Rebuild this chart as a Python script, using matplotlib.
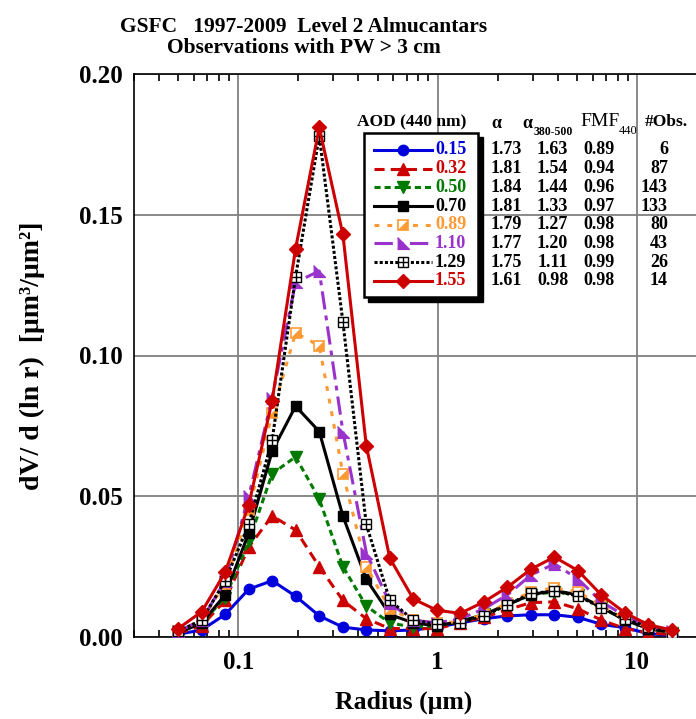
import matplotlib
matplotlib.use('Agg')
import matplotlib.pyplot as plt
from matplotlib.lines import Line2D
from matplotlib.patches import Rectangle
from matplotlib.ticker import FixedLocator, LogLocator, NullFormatter, FormatStrFormatter

plt.rcParams['font.family'] = ['Liberation Serif', 'DejaVu Serif']
plt.rcParams['font.weight'] = 'bold'
plt.rcParams['axes.labelweight'] = 'bold'

# radius bins (um)
radius = [0.050, 0.0656, 0.086, 0.113, 0.148, 0.194, 0.255, 0.335, 0.439, 0.576, 0.756,
          0.992, 1.302, 1.708, 2.241, 2.940, 3.857, 5.061, 6.641, 8.713, 11.43, 15.0]

# dV/dlnr for each AOD class
dv_015 = [0.001, 0.0025, 0.008, 0.017, 0.020, 0.0145, 0.0075, 0.0035, 0.0025, 0.0022, 0.0025,
          0.0035, 0.005, 0.0065, 0.0075, 0.0079, 0.0079, 0.007, 0.0045, 0.0033, 0.0012, 0.0005]
dv_032 = [0.0012, 0.004, 0.013, 0.032, 0.043, 0.038, 0.025, 0.013, 0.0065, 0.003, 0.003,
          0.003, 0.005, 0.007, 0.0097, 0.0122, 0.0125, 0.010, 0.006, 0.003, 0.0015, 0.0008]
dv_050 = [0.0015, 0.005, 0.014, 0.034, 0.058, 0.064, 0.049, 0.025, 0.011, 0.005, 0.0035,
          0.004, 0.0055, 0.008, 0.0115, 0.015, 0.016, 0.015, 0.0105, 0.006, 0.003, 0.0015]
dv_070 = [0.0015, 0.005, 0.015, 0.037, 0.066, 0.082, 0.073, 0.043, 0.0205, 0.008, 0.005,
          0.004, 0.0055, 0.008, 0.0115, 0.015, 0.0165, 0.015, 0.0105, 0.006, 0.003, 0.0015]
dv_089 = [0.002, 0.006, 0.019, 0.045, 0.0795, 0.108, 0.1035, 0.058, 0.025, 0.010, 0.006,
          0.005, 0.0055, 0.008, 0.012, 0.016, 0.0175, 0.016, 0.011, 0.0065, 0.0035, 0.0015]
dv_110 = [0.002, 0.006, 0.020, 0.050, 0.085, 0.126, 0.130, 0.073, 0.030, 0.012, 0.006,
          0.005, 0.0065, 0.010, 0.015, 0.022, 0.026, 0.0206, 0.0125, 0.0075, 0.004, 0.002]
dv_129 = [0.002, 0.006, 0.020, 0.040, 0.070, 0.128, 0.178, 0.112, 0.040, 0.013, 0.006,
          0.0045, 0.005, 0.0075, 0.0114, 0.0155, 0.0163, 0.0146, 0.0104, 0.0064, 0.0036, 0.0015]
dv_155 = [0.003, 0.009, 0.023, 0.047, 0.084, 0.138, 0.181, 0.143, 0.068, 0.028, 0.0135,
          0.0095, 0.0084, 0.0125, 0.0177, 0.0241, 0.0284, 0.0236, 0.0149, 0.0086, 0.0043, 0.0025]

aod_labels = ['0.15', '0.32', '0.50', '0.70', '0.89', '1.10', '1.29', '1.55']
alpha = [1.73, 1.81, 1.84, 1.81, 1.79, 1.77, 1.75, 1.61]
alpha_380_500 = [1.63, 1.54, 1.44, 1.33, 1.27, 1.20, 1.11, 0.98]
fmf_440 = [0.89, 0.94, 0.96, 0.97, 0.98, 0.98, 0.99, 0.98]
n_obs = [6, 87, 143, 133, 80, 43, 26, 14]

series = [dv_015, dv_032, dv_050, dv_070, dv_089, dv_110, dv_129, dv_155]

# styles
tri_lr = [(1, 1), (1, -1), (-1, -1)]      # filled lower right half of square
tri_ll = [(-1, 1), (1, -1), (-1, -1)]
styles = [
    dict(color='#0000DD', ls='-', marker='o', ms=7.5),
    dict(color='#CC0000', ls=(0, (3.3, 2.0)), marker='^', ms=8.5),
    dict(color='#007A00', ls=(0, (2.0, 1.3)), marker='v', ms=8.5),
    dict(color='black', ls='-', marker='s', ms=7.5),
    dict(color='#FF9933', ls=(0, (1.6, 2.6)), marker='s', ms=7.5, mfc='white', mew=1.2),
    dict(color='#9933CC', ls=(0, (6, 2, 1.6, 2)), marker=tri_ll, ms=8.5),
    dict(color='black', ls=(0, (1.0, 0.7)), marker='s', ms=7.5, mfc='white', mew=1.0),
    dict(color='#CC0000', ls='-', marker='D', ms=7),
]
text_colors = ['#0000DD', '#CC0000', '#007A00', 'black', '#FF9933', '#9933CC', 'black', '#CC0000']

W, H = 696, 719


def fx(x):
    return x / W


def fy(y):
    return 1 - y / H


def overlay(i):
    # extra marker drawn on top of the open squares
    if i == 4:
        return dict(marker=tri_lr, ms=7.5, color='#FF9933', mew=0)
    if i == 6:
        return dict(marker='+', ms=7.5, color='black', mew=1.0)
    return None


fig = plt.figure(figsize=(6.96, 7.19), dpi=100)
ax = fig.add_axes([fx(134), fy(637), 598 / W, 563 / H])

for i, dv in enumerate(series):
    st = styles[i]
    ax.plot(radius, dv, color=st['color'], ls=st['ls'], lw=2.2, marker=st['marker'],
            ms=st['ms'], mfc=st.get('mfc', st['color']), mec=st['color'],
            mew=st.get('mew', 1.0), zorder=3 + i)
    ov = overlay(i)
    if ov:
        ax.plot(radius, dv, ls='none', marker=ov['marker'], ms=ov['ms'], color=ov['color'],
                mew=ov['mew'], zorder=3 + i)

ax.set_xscale('log')
ax.set_xlim(0.03, 30)
ax.set_ylim(0, 0.20)
ax.xaxis.set_major_locator(FixedLocator([0.1, 1, 10]))
ax.xaxis.set_major_formatter(FormatStrFormatter('%g'))
ax.xaxis.set_minor_locator(LogLocator(base=10, subs=range(2, 10)))
ax.xaxis.set_minor_formatter(NullFormatter())
ax.yaxis.set_major_locator(FixedLocator([0, 0.05, 0.10, 0.15, 0.20]))
ax.yaxis.set_major_formatter(FormatStrFormatter('%.2f'))

ax.grid(True, which='major', color='#808080', lw=1.3, zorder=0)
ax.set_axisbelow(True)
ax.tick_params(which='major', length=0, labelsize=18)
ax.tick_params(axis='x', which='major', pad=10)
ax.tick_params(axis='y', which='major', pad=8)
ax.tick_params(axis='x', which='minor', direction='in', length=5, width=1.2, top=True)
for s in ['left', 'bottom', 'top']:
    ax.spines[s].set_linewidth(1.2)
ax.spines['right'].set_visible(False)

ax.set_xlabel('Radius (μm)', fontsize=18.5, fontweight='bold')
ax.xaxis.set_label_coords(0.451, -0.095)
ax.set_ylabel('dV/ d (ln r)  [μm³/μm²]', fontsize=20, fontweight='bold')
ax.yaxis.set_label_coords(-0.148, 0.5)

# title
fig.text(fx(304), fy(32), 'GSFC   1997-2009  Level 2 Almucantars', ha='center', va='baseline', fontsize=15.5)
fig.text(fx(304), fy(53), 'Observations with PW > 3 cm', ha='center', va='baseline', fontsize=15.5)

# legend box with shadow
fig.add_artist(Rectangle((fx(368), fy(302)), 115 / W, 165 / H, transform=fig.transFigure,
                         fc='black', ec='black', zorder=10))
fig.add_artist(Rectangle((fx(364.5), fy(297)), 113.5 / W, 164 / H, transform=fig.transFigure,
                         fc='white', ec='black', lw=1.8, zorder=11))

row0 = 150
dy = 18.7
for i in range(len(series)):
    y = row0 + i * dy
    st = styles[i]
    fig.add_artist(Line2D([fx(374), fx(432)], [fy(y), fy(y)], transform=fig.transFigure,
                          color=st['color'], ls=st['ls'], lw=2.2, zorder=12))
    fig.add_artist(Line2D([fx(403)], [fy(y)], transform=fig.transFigure, ls='none',
                          marker=st['marker'], ms=st['ms'], mfc=st.get('mfc', st['color']),
                          mec=st['color'], mew=st.get('mew', 1.0), zorder=13))
    ov = overlay(i)
    if ov:
        fig.add_artist(Line2D([fx(403)], [fy(y)], transform=fig.transFigure, ls='none',
                              marker=ov['marker'], ms=ov['ms'], color=ov['color'],
                              mew=ov['mew'], zorder=14))
    fig.text(fx(435), fy(y), aod_labels[i], color=text_colors[i], ha='left', va='center',
             fontsize=13, zorder=15)
    # table
    fig.text(fx(506), fy(y), '%.2f' % alpha[i], ha='center', va='center', fontsize=13)
    fig.text(fx(552.5), fy(y), '%.2f' % alpha_380_500[i], ha='center', va='center', fontsize=13)
    fig.text(fx(599), fy(y), '%.2f' % fmf_440[i], ha='center', va='center', fontsize=13)
    fig.text(fx(668), fy(y), str(n_obs[i]), ha='right', va='center', fontsize=13)

# table header
fig.text(fx(357), fy(122.5), 'AOD (440 nm)', ha='left', va='center', fontsize=12.5)
fig.text(fx(496.5), fy(123), 'α', ha='center', va='center', fontsize=13)
fig.text(fx(527.5), fy(123), 'α', ha='center', va='center', fontsize=13)
fig.text(fx(534), fy(132), '380-500', ha='left', va='center', fontsize=8.5)
fig.text(fx(580), fy(122), 'FMF', ha='left', va='center', fontsize=14, fontweight='normal')
fig.text(fx(619), fy(131), '440', ha='left', va='center', fontsize=9, fontweight='normal')
fig.text(fx(666), fy(122.5), '#Obs.', ha='center', va='center', fontsize=12.5)

fig.savefig('out.png', dpi=100)
